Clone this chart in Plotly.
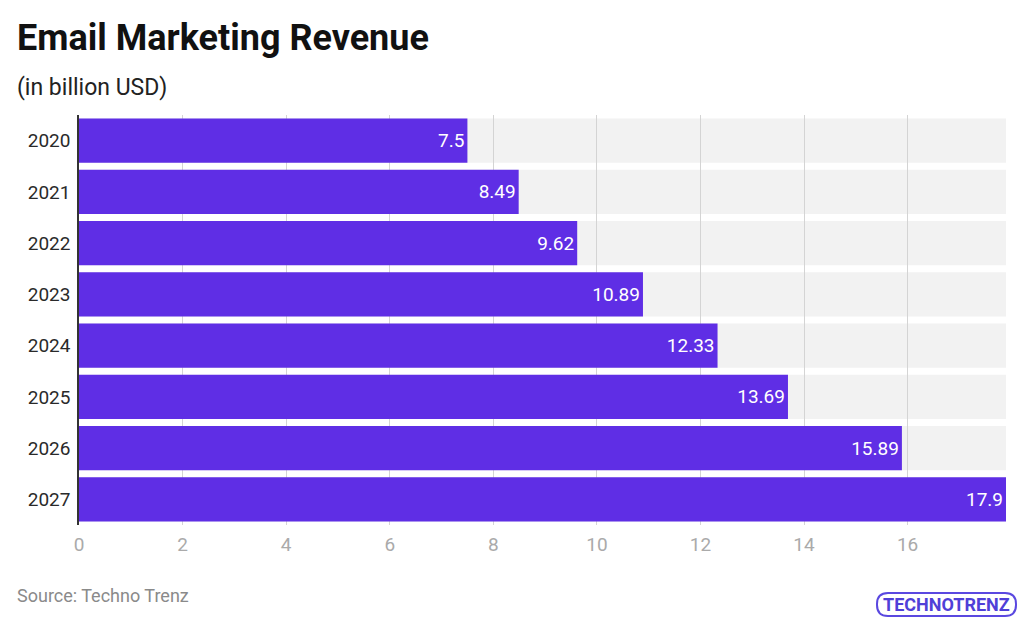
import plotly.graph_objects as go

years = ["2020", "2021", "2022", "2023", "2024", "2025", "2026", "2027"]
revenue = [7.5, 8.49, 9.62, 10.89, 12.33, 13.69, 15.89, 17.9]
tick_vals = [0, 2, 4, 6, 8, 10, 12, 14, 16]

bar_color = "#5f2ee5"
x_max = max(revenue)

W, H = 1024, 623
M_L, M_R, M_T, M_B = 79, 18, 115, 98


def px(x, y):
    # pixeles de la pagina -> coordenadas paper
    return (x - M_L) / (W - M_L - M_R), 1 - (y - M_T) / (H - M_T - M_B)


def rounded_rect(x0, y0, x1, y1, r):
    a0, b0 = px(x0, y0)
    a1, b1 = px(x1, y1)
    rx = r / (W - M_L - M_R)
    ry = r / (H - M_T - M_B)
    return (f"M {a0 + rx} {b0} L {a1 - rx} {b0} Q {a1} {b0} {a1} {b0 - ry} "
            f"L {a1} {b1 + ry} Q {a1} {b1} {a1 - rx} {b1} "
            f"L {a0 + rx} {b1} Q {a0} {b1} {a0} {b1 + ry} "
            f"L {a0} {b0 - ry} Q {a0} {b0} {a0 + rx} {b0} Z")


def ann(text, x, y, size, color, **kw):
    ax, ay = px(x, y)
    return dict(text=text, x=ax, y=ay, xref="paper", yref="paper",
                xanchor=kw.pop("xanchor", "left"), yanchor="middle", showarrow=False,
                font=dict(family="Roboto", size=size, color=color), **kw)


fig = go.Figure()

fig.add_trace(go.Bar(
    x=revenue,
    y=years,
    orientation="h",
    marker_color=bar_color,
    marker_line_width=0,
    text=[f"{v:g}" for v in revenue],
    textposition="inside",
    insidetextanchor="end",
    textfont=dict(family="Roboto", size=19, color="white"),
    width=0.86,
    hoverinfo="x+y",
))

# fondos grises detras de cada fila (debajo de la cuadricula)
for i, _ in enumerate(years):
    fig.add_shape(
        type="rect", xref="x", yref="y",
        x0=0, x1=x_max, y0=i - 0.43, y1=i + 0.43,
        fillcolor="#f2f2f2", line_width=0, layer="below",
    )

# marco redondeado del logo
fig.add_shape(
    type="path", xref="paper", yref="paper", layer="above",
    path=rounded_rect(877, 593, 1016, 616, 11),
    line=dict(color="#5a48e0", width=2),
)

fig.update_layout(
    width=W, height=H,
    paper_bgcolor="white",
    plot_bgcolor="white",
    showlegend=False,
    margin=dict(l=M_L, r=M_R, t=M_T, b=M_B),
    font=dict(family="Roboto", color="#222222"),
    xaxis=dict(
        range=[0, x_max],
        tickvals=tick_vals,
        showgrid=True,
        gridcolor="#d4d4d4",
        gridwidth=1,
        zeroline=False,
        showline=False,
        tickfont=dict(family="Roboto", size=19, color="#aaaaaa"),
        ticks="",
        ticklabelstandoff=6,
        fixedrange=True,
    ),
    yaxis=dict(
        autorange="reversed",
        showgrid=False,
        showline=True,
        linecolor="#333333",
        linewidth=1.5,
        ticks="",
        ticklabelstandoff=3,
        tickfont=dict(family="Roboto", size=19, color="#2a2a2a"),
        fixedrange=True,
    ),
    annotations=[
        ann("<b>Email Marketing Revenue</b>", 15, 38, 36, "#111111"),
        ann("(in billion USD)", 15, 88, 23, "#222222"),
        ann("Source: Techno Trenz", 15, 595, 18, "#8a8a8a"),
        ann("<b>TECHNOTRENZ</b>", 946, 604, 18, "#4f3fd8", xanchor="center"),
    ],
)

fig.write_html(
    "out.html",
    config={"displayModeBar": False},
    post_script="document.body.style.margin='0';document.body.style.overflow='hidden';",
)
